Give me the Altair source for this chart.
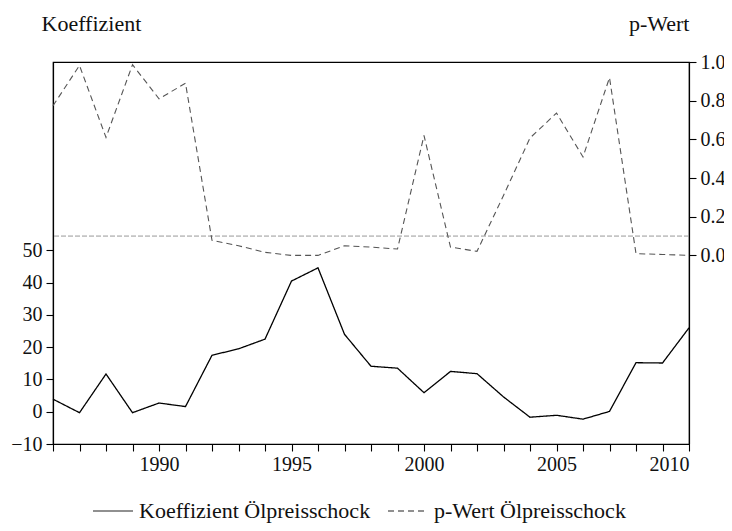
import altair as alt
import pandas as pd

years = list(range(1986, 2011))
koeffizient = [3.9, -0.3, 11.7, -0.3, 2.7, 1.6, 17.5, 19.5, 22.5, 40.5, 44.6, 24.0,
               14.1, 13.5, 5.9, 12.5, 11.8, 4.6, -1.7, -1.1, -2.3, 0.1, 15.2, 15.1, 26.0]
p_wert = [0.774, 0.982, 0.61, 0.986, 0.81, 0.89, 0.078, 0.05, 0.016, 0.0, 0.0, 0.05,
          0.043, 0.033, 0.62, 0.043, 0.021, 0.31, 0.607, 0.736, 0.509, 0.919, 0.009, 0.005, 0.0]
signif_level = [0.1]

series_names = ["Koeffizient Ölpreisschock", "p-Wert Ölpreisschock"]
left_ticks = [-10, 0, 10, 20, 30, 40, 50]
right_ticks = [0.0, 0.2, 0.4, 0.6, 0.8, 1.0]
year_ticks = years

df_coef = pd.DataFrame({"Jahr": years, "Koeffizient": koeffizient,
                        "Serie": [series_names[0]] * len(years)})
df_p = pd.DataFrame({"Jahr": years, "pWert": p_wert,
                     "Serie": [series_names[1]] * len(years)})
df_ref = pd.DataFrame({"level": signif_level})

FONT = "'Liberation Serif', 'DejaVu Serif', serif"
FS_TICK = 20
FS_TEXT = 22

x_enc = alt.X("Jahr:Q",
              scale=alt.Scale(domain=[1986, 2010], nice=False, zero=False),
              axis=alt.Axis(values=year_ticks, title=None, grid=False,
                            labelExpr="datum.value % 5 == 0 ? datum.value : ''",
                            tickSize=7, labelPadding=3, domain=True))

dash_scale = alt.Scale(domain=series_names, range=[[1, 0], [6, 4]])
legend = alt.Legend(title=None, orient="none", direction="horizontal",
                    legendX=39, legendY=428, symbolType="stroke",
                    symbolSize=1600, symbolStrokeWidth=1.2, symbolStrokeColor="#222",
                    labelFont=FONT, labelFontSize=FS_TEXT, labelColor="#111",
                    labelLimit=0, columnPadding=14, symbolOffset=0, labelOffset=5,
                    padding=0)

coef_line = alt.Chart(df_coef).mark_line(color="black", strokeWidth=1.3).encode(
    x=x_enc,
    y=alt.Y("Koeffizient:Q",
            scale=alt.Scale(domain=[-10, 108.4], nice=False, zero=False),
            axis=alt.Axis(orient="left", values=left_ticks, grid=False,
                          title="Koeffizient", titleAngle=0, titleAlign="left",
                          titleBaseline="alphabetic", titleX=-12, titleY=-32,
                          tickSize=7, labelPadding=4)),
    strokeDash=alt.StrokeDash("Serie:N", scale=dash_scale, legend=legend),
)

p_line = alt.Chart(df_p).mark_line(color="#555555", strokeWidth=1.1).encode(
    x=x_enc,
    y=alt.Y("pWert:Q",
            scale=alt.Scale(domain=[-0.975, 1.0], nice=False, zero=False),
            axis=alt.Axis(orient="right", values=right_ticks, format=".1f", grid=False,
                          title="p-Wert", titleAngle=0, titleAlign="right",
                          titleBaseline="alphabetic", titleX=0, titleY=-32,
                          tickSize=7, labelPadding=4)),
    strokeDash=alt.StrokeDash("Serie:N", scale=dash_scale, legend=legend),
)

ref_rule = alt.Chart(df_ref).mark_rule(color="#999999", strokeWidth=1, strokeDash=[5, 2]).encode(
    y=alt.Y("level:Q", scale=alt.Scale(domain=[-0.975, 1.0], nice=False, zero=False))
)

chart = alt.layer(
    coef_line,
    alt.layer(ref_rule, p_line),
).resolve_scale(y="independent").properties(
    width=636, height=382,
    autosize=alt.AutoSizeParams(type="none"),
    padding={"left": 45, "top": 54, "right": 35, "bottom": 79},
).configure_view(
    stroke="black", strokeWidth=1.2
).configure_axis(
    domainColor="black", tickColor="black", labelColor="#111", titleColor="#111",
    labelFont=FONT, titleFont=FONT, labelFontSize=FS_TICK, titleFontSize=FS_TEXT,
    titleFontWeight="normal", domainWidth=1.2, tickWidth=1.1
)

chart.save("out.html", embed_options={"renderer": "svg", "actions": False})
